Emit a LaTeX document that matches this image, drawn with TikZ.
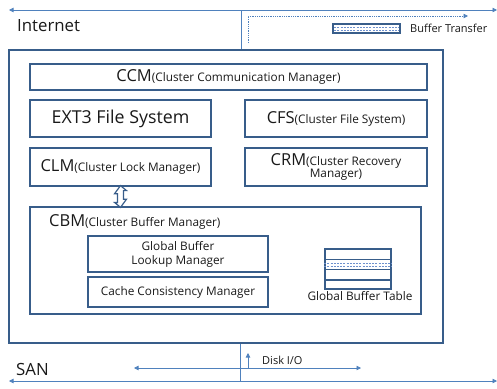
\documentclass[tikz,border=0pt]{standalone}
\usepackage{fontspec}
\setmainfont{Open Sans}
\usetikzlibrary{arrows.meta,calc}
\definecolor{boxc}{RGB}{56,93,138}
\definecolor{linec}{RGB}{79,129,189}
\definecolor{dashc}{RGB}{110,145,205}
\begin{document}
\begin{tikzpicture}[x=1pt,y=-1pt,
  box/.style={draw=boxc,line width=1.6pt,inner sep=0pt,align=center,text=black!90},
  thinline/.style={draw=linec,line width=0.8pt},
  tri/.tip={Triangle[length=4.5pt,width=4.5pt]},
  biga/.style={font=\fontsize{16.8}{18}\selectfont},
  smalla/.style={font=\fontsize{11}{13}\selectfont},
  lbl/.style={inner sep=0pt,text=black!90}]
\useasboundingbox (0,0) rectangle (497,388);
% outer frame
\node[box,line width=2pt,minimum width=434pt,minimum height=293pt] (outer) at (226,196.5) {};
% boxes
\node[box,minimum width=397pt,minimum height=26pt] (ccm) at (228.5,77)
  {{\fontsize{16.5}{18}\selectfont CCM}{\fontsize{11.8}{13}\selectfont(Cluster Communication Manager)}};
\node[box,minimum width=181pt,minimum height=37pt] (ext3) at (120.5,118.5)
  {\fontsize{17.8}{19}\selectfont EXT3 File System};
\node[box,minimum width=182pt,minimum height=37pt] (cfs) at (336,118.5)
  {{\fontsize{16.5}{18}\selectfont CFS}{\fontsize{11.8}{13}\selectfont(Cluster File System)}};
\node[box,minimum width=181pt,minimum height=38pt] (clm) at (120.5,167)
  {{\fontsize{16.5}{18}\selectfont CLM}{\fontsize{11.8}{13}\selectfont(Cluster Lock Manager)}};
\node[box,minimum width=182pt,minimum height=38pt] (crm) at (336,167)
  {{\fontsize{16.5}{15}\selectfont CRM}{\fontsize{11.8}{15}\selectfont(Cluster Recovery}\\{\fontsize{11.8}{13}\selectfont Manager)}};
\node[box,minimum width=391pt,minimum height=107pt] (cbm) at (225.5,260.5) {};
\node[lbl,anchor=west] (cbmt) at (49,222)
  {{\fontsize{16.5}{18}\selectfont CBM}{\fontsize{11.8}{13}\selectfont(Cluster Buffer Manager)}};
\node[box,minimum width=180pt,minimum height=36pt,font=\fontsize{11.8}{14}\selectfont] (gblm) at (178,254)
  {Global Buffer\\Lookup Manager};
\node[box,minimum width=180pt,minimum height=30pt,font=\fontsize{11.8}{13}\selectfont] (ccmgr) at (178,292)
  {Cache Consistency Manager};
% global buffer table
\node[box,minimum width=66pt,minimum height=40pt] (gbt) at (358,269) {};
\draw[boxc,line width=1.5pt] (gbt.west |- 0,259.3) -- (gbt.east |- 0,259.3)
  (gbt.west |- 0,269.3) -- (gbt.east |- 0,269.3)
  (gbt.west |- 0,280) -- (gbt.east |- 0,280);
\draw[dashc,line width=0.7pt,dash pattern=on 2pt off 1.2pt] (gbt.west |- 0,263.3) -- (gbt.east |- 0,263.3)
  (gbt.west |- 0,266.4) -- (gbt.east |- 0,266.4);
\node[lbl,font=\fontsize{11.8}{13}\selectfont] (gbtt) at (360,296) {Global Buffer Table};
% double arrow CLM <-> CBM
\draw[boxc,line width=1.2pt,fill=white] ([yshift=1.2pt]clm.south)
  -- ++(6,5) -- ++(-3,0) -- ++(0,8.6) -- ++(3,0) -- ([yshift=-1.2pt]clm.south |- cbm.north)
  -- ++(-6,-5) -- ++(3,0) -- ++(0,-8.6) -- ++(-3,0) -- cycle;
% internet line
\coordinate (tl) at (9,10);
\coordinate (tr) at (497,10);
\draw[thinline,{tri}-{tri}] (tl) -- (tr);
\coordinate (tv) at (241,10);
\draw[thinline] (tv) -- (tv |- outer.north);
\coordinate (d0) at (248,43);
\coordinate (d1) at (468,16);
\draw[thinline,dash pattern=on 0.9pt off 0.9pt,-{tri}] (d0) |- (d1);
\node[lbl,anchor=west,biga] (inet) at (17,26) {Internet};
% legend
\node[box,minimum width=67pt,minimum height=9pt] (leg) at (366.5,28.5) {};
\draw[dashc,line width=0.7pt,dash pattern=on 2pt off 1.2pt] ([xshift=2pt]leg.west |- 0,27.2) -- ([xshift=-2pt]leg.east |- 0,27.2)
  ([xshift=2pt]leg.west |- 0,29.9) -- ([xshift=-2pt]leg.east |- 0,29.9);
\node[lbl,anchor=west,smalla] (bt) at (410,28) {Buffer Transfer};
% SAN
\coordinate (bl) at (9,381);
\coordinate (br) at (497,381);
\draw[thinline,{tri}-{tri}] (bl) -- (br);
\coordinate (bv) at (240,381);
\draw[thinline] (bv) -- (bv |- outer.south);
\coordinate (il) at (134,368);
\coordinate (ir) at (361,368);
\draw[thinline,{tri}-{tri}] (il) -- (ir);
\coordinate (da0) at (248,368);
\coordinate (da1) at (248,353);
\draw[thinline,-{tri}] (da0) -- (da1);
\node[lbl,anchor=west,smalla] (disk) at (262,360) {Disk I/O};
\node[lbl,anchor=west,biga] (san) at (16,369) {SAN};
\end{tikzpicture}
\end{document}
